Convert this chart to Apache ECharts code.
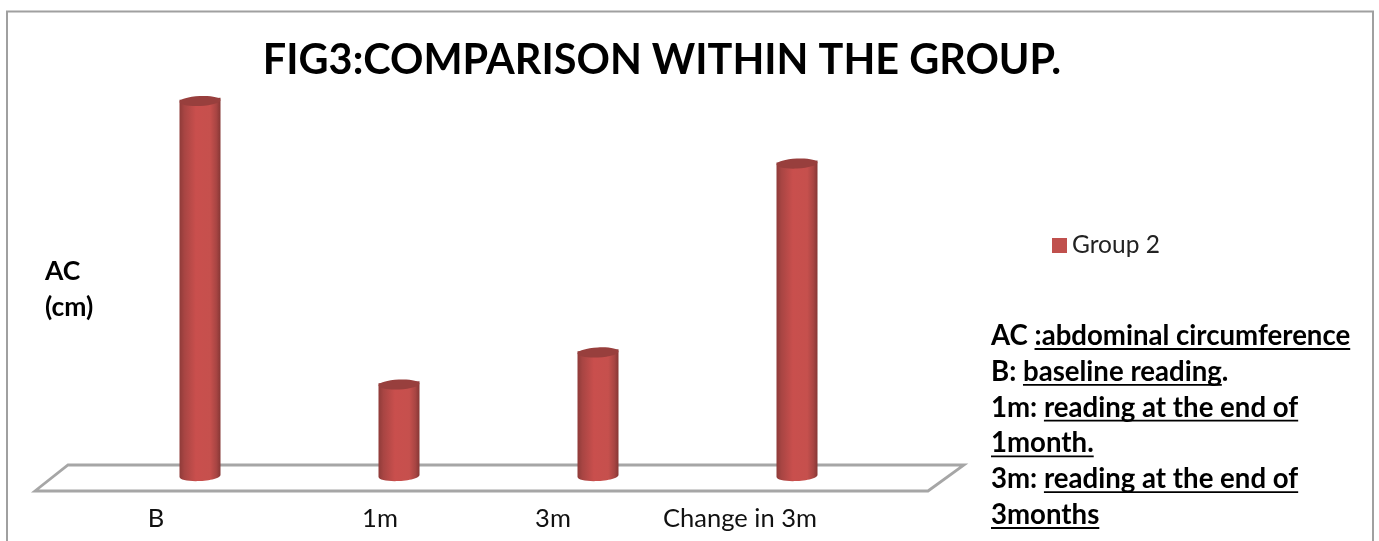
<!DOCTYPE html>
<html>
<head>
<meta charset="utf-8">
<style>html,body{margin:0;padding:0;background:#fff}#chart{width:1379px;height:541px}</style>
<script src="https://cdn.jsdelivr.net/npm/echarts@6/dist/echarts.min.js"></script>
</head>
<body>
<div id="chart"></div>
<script>
// Abdominal circumference within group 2
const categories = ['B', '1m', '3m', 'Change in 3m'];
const group2 = [100, 24.8, 33.3, 83.4];
const seriesName = 'Group 2';
const titleText = 'FIG3:COMPARISON WITHIN THE GROUP.';
const yAxisName = 'AC\n(cm)';
const categoryShift = [-44, -19, -45, -57];

// Key to the abbreviations: each line is [plain lead-in, underlined part, plain tail]
const notes = [
  ['AC ', ':abdominal circumference', ''],
  ['B: ', 'baseline reading', '.'],
  ['1m: ', 'reading at the end of', ''],
  ['', '1month.', ''],
  ['3m: ', 'reading at the end of', ''],
  ['', '3months', '']
];

const FONT = 'Lato';
const INK = '#000';
const RED = '#c0504d';
const FRAME = '#a0a0a0';

const chart = echarts.init(document.getElementById('chart'), null, {renderer: 'canvas'});

// Cylinder: body with a side-lit gradient, a darker tilted cap and a rounded foot
function renderCylinder(params, api) {
  const top = api.coord([api.value(0), api.value(1)]);
  const base = api.coord([api.value(0), 0]);
  const rx = 20.5, ry = 5, tilt = 0.05;
  const cx = base[0];
  const bodyFill = new echarts.graphic.LinearGradient(0, 0, 1, 0, [
    {offset: 0, color: '#8f3b39'},
    {offset: 0.12, color: '#a84543'},
    {offset: 0.4, color: '#c94f4d'},
    {offset: 0.75, color: '#c6504d'},
    {offset: 0.9, color: '#a84543'},
    {offset: 1, color: '#863735'}
  ]);
  const dTop = rx * tilt, by = base[1], ty = top[1];
  const body = {
    type: 'path',
    shape: {
      pathData:
        'M' + (cx - rx) + ' ' + (ty + dTop) +
        'L' + (cx - rx) + ' ' + (by + dTop) +
        'C' + (cx - rx) + ' ' + (by + dTop + ry * 1.4) + ' ' + (cx + rx) + ' ' + (by - dTop + ry * 1.4) + ' ' + (cx + rx) + ' ' + (by - dTop) +
        'L' + (cx + rx) + ' ' + (ty - dTop) + 'Z',
      x: cx - rx, y: ty - ry, width: rx * 2, height: by - ty + 2 * ry
    },
    style: {fill: bodyFill}
  };
  const cap = {
    type: 'ellipse',
    x: cx, y: ty, rotation: tilt,
    shape: {cx: 0, cy: 0, rx: rx, ry: ry},
    style: {fill: '#983f3d'}
  };
  return {type: 'group', children: [body, cap]};
}

// Note lines with their underlines, laid out with measured text widths
function noteGraphics() {
  const out = [];
  const x0 = 991, y0 = 336, step = 35.8, size = 27.6;
  const font = 'bold ' + size + 'px ' + FONT;
  const measure = s => echarts.format.getTextRect
    ? echarts.format.getTextRect(s, font).width
    : s.length * size / 2;
  notes.forEach((line, i) => {
    const y = y0 + i * step;
    let x = x0;
    line.forEach((part, j) => {
      if (!part) return;
      const w = measure(part);
      out.push({type: 'text', x: x, y: y, style: {text: part, font: font, fill: INK, textVerticalAlign: 'middle'}});
      if (j === 1) {
        out.push({type: 'line', shape: {x1: x, y1: y + 13, x2: x + w, y2: y + 13}, style: {stroke: INK, lineWidth: 1.8}});
      }
      x += w;
    });
  });
  return out;
}

const floorFront = 491, floorBack = 465;
const floor = {
  type: 'polygon', z: 0,
  shape: {points: [[35, floorFront], [928, floorFront], [964, floorBack], [68, floorBack]]},
  style: {fill: '#fff', stroke: '#a6a6a6', lineWidth: 2.8}
};
const frame = {
  type: 'polyline', z: 0,
  shape: {points: [[7, 541], [7, 11.5], [1373, 11.5], [1373, 541]]},
  style: {fill: 'none', stroke: FRAME, lineWidth: 2}
};

chart.setOption({
  animation: false,
  backgroundColor: '#fff',
  textStyle: {fontFamily: FONT},
  title: {
    text: titleText, left: 657, top: 35, textAlign: 'center',
    textStyle: {fontFamily: FONT, fontSize: 41.4, fontWeight: 'bold', color: INK}
  },
  legend: {
    left: 1047, top: 228, icon: 'rect', itemWidth: 15, itemHeight: 15, itemGap: 6,
    data: [seriesName],
    textStyle: {fontFamily: FONT, fontSize: 24.5, color: '#222'}
  },
  grid: {left: 100.5, width: 796, top: 101, height: 377},
  xAxis: {
    type: 'category',
    data: categories.map((c, i) => ({
      value: c,
      textStyle: {padding: [0, -2 * categoryShift[i], 0, 0]}
    })),
    axisLine: {show: false}, axisTick: {show: false},
    axisLabel: {interval: 0, margin: 28, fontFamily: FONT, fontSize: 25.5, color: '#111'}
  },
  yAxis: {
    type: 'value', min: 0, max: 100,
    name: yAxisName, nameLocation: 'middle', nameRotate: 0, nameGap: 55.5,
    nameTextStyle: {fontFamily: FONT, fontWeight: 'bold', fontSize: 26.5, color: INK, align: 'left', lineHeight: 36},
    axisLine: {show: false}, axisTick: {show: false}, axisLabel: {show: false}, splitLine: {show: false}
  },
  graphic: {elements: [frame, floor].concat(noteGraphics())},
  series: [{
    name: seriesName,
    type: 'custom',
    z: 5,
    itemStyle: {color: RED},
    renderItem: renderCylinder,
    encode: {x: 0, y: 1},
    data: group2.map((v, i) => [i, v])
  }]
});
</script>
</body>
</html>
